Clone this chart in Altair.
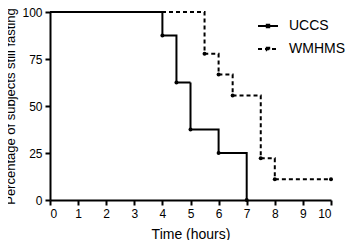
import altair as alt
import pandas as pd

uccs_t = [0, 4, 4.5, 5, 6, 7]
uccs_p = [100, 87.5, 62.5, 37.5, 25, 0]
wm_t = [0, 5.5, 6, 6.5, 7.5, 8, 10]
wm_p = [100, 77.8, 66.7, 55.6, 22.2, 11.1, 11.1]
x_ticks = [0, 1, 2, 3, 4, 5, 6, 7, 8, 9, 10]
y_ticks = [0, 25, 50, 75, 100]

rows = []
for t, p in zip(uccs_t, uccs_p):
    rows.append({"t": t, "p": p, "g": "UCCS", "mark": t > 0})
for t, p in zip(wm_t, wm_p):
    rows.append({"t": t, "p": p, "g": "WMHMS", "mark": t > 0})
df = pd.DataFrame(rows)

font = "Liberation Sans"
x = alt.X("t:Q", scale=alt.Scale(domain=[0, 10], nice=False, zero=False),
          axis=alt.Axis(values=x_ticks, tickCount=11, title="Time (hours)", grid=False,
                        labelOverlap=False, titleFontWeight="normal", titlePadding=8,
                        titleFontSize=14))
y = alt.Y("p:Q", scale=alt.Scale(domain=[0, 100], nice=False),
          axis=alt.Axis(values=y_ticks, title="Percentage of subjects still fasting",
                        labelOverlap=False, grid=False, titleFontWeight="normal", titlePadding=4,
                        titleFontSize=13))

sym = "M-1,0L1,0M-0.12,-0.12L0.12,-0.12L0.12,0.12L-0.12,0.12Z"

lines = alt.Chart(df).mark_line(interpolate="step-after", strokeWidth=2, color="black").encode(
    x=x, y=y,
    strokeDash=alt.StrokeDash("g:N", scale=alt.Scale(domain=["UCCS", "WMHMS"], range=[[1, 0], [4, 3]]),
                              legend=alt.Legend(title=None, orient="none", legendX=207, legendY=3,
                                                symbolType=sym, symbolStrokeWidth=2,
                                                symbolSize=400, labelFontSize=14, rowPadding=5,
                                                labelOffset=10, symbolFillColor="black",
                                                labelFont=font, symbolStrokeColor="black",
                                                labelColor="black")),
)
pts = alt.Chart(df).transform_filter("datum.mark").mark_point(filled=True, size=16, color="black", opacity=1).encode(
    x=x, y=y)

chart = alt.layer(lines, pts).properties(
    width=281, height=188, autosize=alt.AutoSizeParams(type="none"),
    padding={"left": 42, "top": 4, "right": 19, "bottom": 40}
).configure_view(stroke=None).configure_axis(
    domainColor="black", domainWidth=2, tickColor="black", tickWidth=2, tickSize=5,
    labelColor="black", labelFontSize=12, labelFont=font, titleFont=font,
    titleColor="black", labelPadding=3
)
chart.save("out.html", embed_options={"renderer": "svg", "actions": False})
